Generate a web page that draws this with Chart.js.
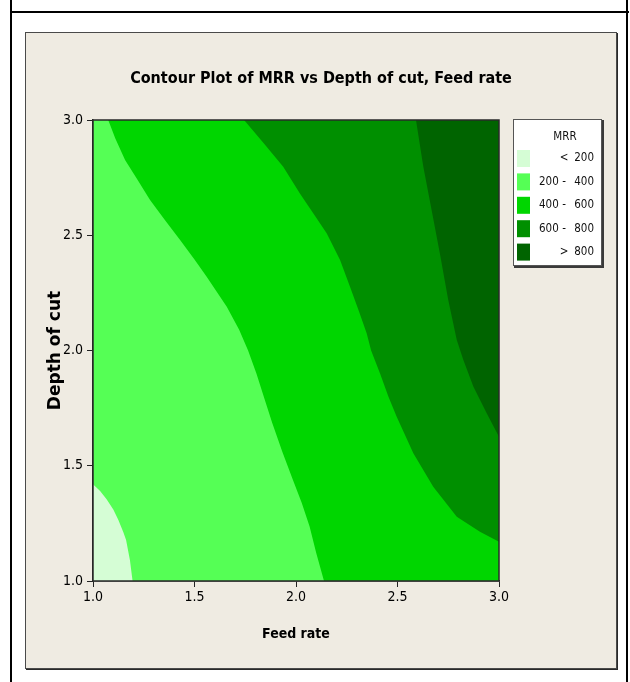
<!DOCTYPE html>
<html>
<head>
<meta charset="utf-8">
<script src="https://cdn.jsdelivr.net/npm/chart.js@4/dist/chart.umd.min.js"></script>
<style>
  html, body { margin: 0; padding: 0; background: #ffffff; }
  #page { position: relative; width: 630px; height: 682px; overflow: hidden; background: #ffffff; }
  .vline { position: absolute; top: 0; width: 2px; height: 682px; background: #000; }
  .hline { position: absolute; left: 10px; width: 619px; height: 2px; background: #000; top: 11px; }
  #panel { position: absolute; left: 25px; top: 32px; width: 590px; height: 635px;
           background: #efebe2; border: 1px solid #4a4a4a; box-shadow: 1px 1px 0 #2a2a2a; }
  canvas { position: absolute; left: 0; top: 0; }
</style>
</head>
<body>
<div id="page">
  <div class="vline" style="left:10px"></div>
  <div class="vline" style="left:626px"></div>
  <div class="hline"></div>
  <div id="panel"></div>
  <canvas id="c" width="630" height="682"></canvas>
</div>
<script>
// ---------------- data ----------------
const chartTitle = 'Contour Plot of MRR vs Depth of cut, Feed rate';
const xAxisTitle = 'Feed rate';
const yAxisTitle = 'Depth of cut';
const legendTitle = 'MRR';
const xTicks = [1.0, 1.5, 2.0, 2.5, 3.0];
const yTicks = [1.0, 1.5, 2.0, 2.5, 3.0];
const levelLabels = ['< 200', '200 - 400', '400 - 600', '600 - 800', '> 800'];
const levelColors = ['#d5fdd5', '#55ff55', '#00d600', '#008f00', '#006400'];

// contour boundaries (Feed rate, Depth of cut)
const b200X = [1.000, 1.035, 1.067, 1.100, 1.125, 1.150, 1.163, 1.182, 1.195];
const b200Y = [1.420, 1.390, 1.355, 1.310, 1.265, 1.210, 1.178, 1.090, 1.000];

const b400X = [1.075, 1.110, 1.158, 1.220, 1.281, 1.355, 1.429, 1.500, 1.560, 1.659, 1.720, 1.764, 1.805, 1.845, 1.883, 1.933, 1.984, 2.028, 2.067, 2.100, 2.138];
const b400Y = [3.000, 2.920, 2.826, 2.740, 2.653, 2.565, 2.479, 2.395, 2.320, 2.190, 2.090, 2.000, 1.900, 1.790, 1.685, 1.560, 1.440, 1.340, 1.236, 1.120, 1.000];

const b600X = [1.744, 1.840, 1.937, 2.020, 2.084, 2.151, 2.217, 2.266, 2.310, 2.348, 2.370, 2.414, 2.455, 2.496, 2.578, 2.676, 2.792, 2.906, 3.000];
const b600Y = [3.000, 2.900, 2.797, 2.680, 2.597, 2.509, 2.393, 2.277, 2.170, 2.075, 2.000, 1.900, 1.800, 1.713, 1.554, 1.409, 1.279, 1.214, 1.170];

const b800X = [2.591, 2.627, 2.668, 2.709, 2.750, 2.792, 2.824, 2.874, 2.940, 3.000];
const b800Y = [3.000, 2.798, 2.610, 2.420, 2.219, 2.046, 1.960, 1.843, 1.727, 1.626];

// ---------------- build region polygons ----------------
const xMin = xTicks[0], xMax = xTicks[xTicks.length - 1];
const yMin = yTicks[0], yMax = yTicks[yTicks.length - 1];

function regionAbove(bx, by) {
  // boundary points, then walk the plot edge clockwise back to the start
  const pts = bx.map((x, i) => ({ x: x, y: by[i] }));
  const last = pts[pts.length - 1];
  const first = pts[0];
  if (last.y === yMin) pts.push({ x: xMax, y: yMin });
  pts.push({ x: xMax, y: yMax });
  if (first.x === xMin && first.y < yMax) pts.push({ x: xMin, y: yMax });
  return pts;
}
const basePolygon = [{x: xMin, y: yMin}, {x: xMax, y: yMin}, {x: xMax, y: yMax}, {x: xMin, y: yMax}];
const polygons = [
  basePolygon,
  regionAbove(b200X, b200Y),
  regionAbove(b400X, b400Y),
  regionAbove(b600X, b600Y),
  regionAbove(b800X, b800Y)
];

const datasets = polygons.map((pts, i) => ({
  label: levelLabels[i],
  data: pts,
  showLine: true,
  fill: 'shape',
  backgroundColor: levelColors[i],
  borderColor: 'rgba(0,0,0,0)',
  borderWidth: 0,
  pointRadius: 0,
  tension: 0,
  order: polygons.length - i
}));

// ---------------- style ----------------
const NARROW = "'Liberation Sans Narrow', 'DejaVu Sans Condensed', 'Liberation Sans', sans-serif";
const fmt = v => Number(v).toFixed(1);

const framePlugin = {
  id: 'frame',
  afterDatasetsDraw(chart) {
    const a = chart.chartArea, c = chart.ctx;
    c.save();
    c.strokeStyle = '#2a2a2a';
    c.lineWidth = 1.5;
    c.strokeRect(a.left, a.top, a.right - a.left, a.bottom - a.top);
    c.restore();
  }
};

const legendPlugin = {
  id: 'contourLegend',
  afterDraw(chart) {
    const c = chart.ctx;
    const bx = 513, by = 119, bw = 89, bh = 147;
    c.save();
    c.fillStyle = '#3a3a3a';
    c.fillRect(bx + 1, by + 1, bw + 1, bh + 1);
    c.fillStyle = '#ffffff';
    c.fillRect(bx, by, bw, bh);
    c.strokeStyle = '#555';
    c.lineWidth = 1;
    c.strokeRect(bx + 0.5, by + 0.5, bw - 1, bh - 1);
    c.fillStyle = '#111';
    c.font = '11.5px ' + NARROW;
    c.textBaseline = 'middle';
    c.textAlign = 'center';
    c.fillText(legendTitle, 565, 137);
    levelLabels.forEach((lab, i) => {
      const cy = 158.5 + i * 23.4;
      c.fillStyle = levelColors[i];
      c.fillRect(517, cy - 8.5, 13, 17);
      c.fillStyle = '#111';
      const parts = lab.split(' ');
      let left = '', mid, right;
      if (parts.length === 3) { left = parts[0]; mid = parts[1]; right = parts[2]; }
      else { mid = parts[0]; right = parts[1]; }
      c.textAlign = 'left';
      if (left) c.fillText(left, 539, cy);
      c.textAlign = 'center';
      c.fillText(mid, 564, cy);
      c.textAlign = 'right';
      c.fillText(right, 594, cy);
    });
    c.restore();
  }
};

new Chart(document.getElementById('c'), {
  type: 'scatter',
  data: { datasets: datasets },
  options: {
    responsive: false,
    animation: false,
    events: [],
    layout: { padding: { left: 25, right: 13, top: 0, bottom: 0 } },
    plugins: {
      legend: { display: false },
      tooltip: { enabled: false },
      title: {
        display: true,
        text: chartTitle,
        color: '#000',
        font: { family: NARROW, size: 16, weight: 'bold' },
        padding: { top: 69.4, bottom: 31.4 }
      }
    },
    scales: {
      x: {
        type: 'linear',
        position: 'bottom',
        min: xMin, max: xMax,
        afterBuildTicks: s => { s.ticks = xTicks.map(v => ({ value: v })); },
        ticks: { callback: fmt, color: '#000', font: { family: NARROW, size: 14 }, padding: 2, maxRotation: 0, autoSkip: false },
        grid: { display: true, drawOnChartArea: false, drawTicks: true, tickLength: 6, color: '#222', tickWidth: 1 },
        border: { display: true, color: '#222', width: 1.5 },
        title: { display: true, text: xAxisTitle, color: '#000', font: { family: NARROW, size: 14, weight: 'bold' }, padding: { top: 0, bottom: 39.6 } },
        afterFit: s => { s.height = 101; }
      },
      y: {
        type: 'linear',
        position: 'left',
        min: yMin, max: yMax,
        afterBuildTicks: s => { s.ticks = yTicks.map(v => ({ value: v })); },
        ticks: { callback: fmt, color: '#000', font: { family: NARROW, size: 14 }, padding: 4, autoSkip: false },
        grid: { display: true, drawOnChartArea: false, drawTicks: true, tickLength: 6, color: '#222', tickWidth: 1 },
        border: { display: true, color: '#222', width: 1.5 },
        title: { display: true, text: yAxisTitle, color: '#000', font: { family: "'DejaVu Sans', sans-serif", size: 17, weight: 'bold' }, padding: { top: 20.8, bottom: 0 } },
        afterFit: s => { s.width = 68; }
      },
      yRight: {
        type: 'linear',
        position: 'right',
        display: true,
        ticks: { display: false },
        grid: { display: false },
        border: { display: false },
        afterFit: s => { s.width = 118; }
      }
    }
  },
  plugins: [framePlugin, legendPlugin]
});
</script>
</body>
</html>
